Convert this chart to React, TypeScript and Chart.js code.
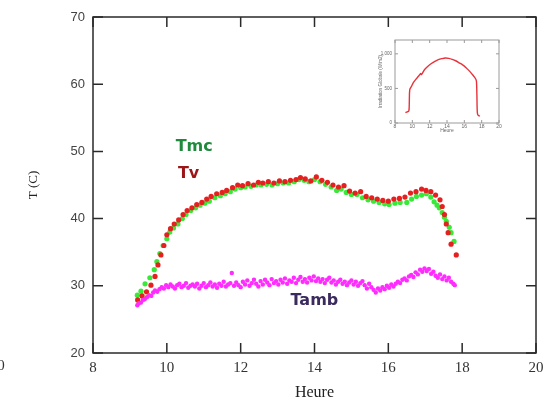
import React, { useEffect, useRef } from "react";
import { Chart, registerables } from "chart.js";
Chart.register(...registerables);

// ---- Main chart data ----
const xTicks = [8, 10, 12, 14, 16, 18, 20];
const yTicks = [20, 30, 40, 50, 60, 70];

const tvHours = [9.21, 9.33, 9.45, 9.57, 9.68, 9.76, 9.84, 9.92, 10.0, 10.1, 10.2, 10.32, 10.44, 10.55, 10.68, 10.81, 10.95, 11.08, 11.2, 11.35, 11.5, 11.62, 11.78, 11.92, 12.05, 12.2, 12.35, 12.48, 12.6, 12.75, 12.9, 13.05, 13.2, 13.35, 13.5, 13.62, 13.75, 13.9, 14.05, 14.2, 14.35, 14.5, 14.65, 14.8, 14.95, 15.1, 15.25, 15.4, 15.55, 15.7, 15.85, 16.0, 16.15, 16.3, 16.45, 16.6, 16.75, 16.9, 17.02, 17.15, 17.28, 17.4, 17.46, 17.52, 17.57, 17.62, 17.7, 17.84];
const tvValues = [27.9, 28.5, 29.1, 30.1, 31.4, 33.1, 34.6, 36.0, 37.6, 38.5, 39.2, 39.8, 40.6, 41.2, 41.6, 42.1, 42.4, 42.9, 43.3, 43.7, 43.9, 44.2, 44.6, 45.0, 44.9, 45.2, 45.0, 45.4, 45.3, 45.5, 45.3, 45.6, 45.5, 45.7, 45.8, 46.1, 45.9, 45.6, 46.2, 45.7, 45.4, 45.0, 44.7, 44.9, 44.1, 43.8, 44.0, 43.3, 43.1, 42.9, 42.7, 42.6, 42.9, 43.0, 43.2, 43.8, 44.0, 44.4, 44.2, 44.0, 43.5, 42.8, 41.8, 40.6, 39.2, 37.9, 36.2, 34.6];

const tmcHours = [9.2, 9.3, 9.41, 9.54, 9.66, 9.73, 9.81, 9.9, 10.0, 10.08, 10.18, 10.3, 10.42, 10.52, 10.65, 10.78, 10.9, 11.03, 11.15, 11.3, 11.45, 11.58, 11.72, 11.85, 12.0, 12.12, 12.28, 12.42, 12.55, 12.7, 12.85, 13.0, 13.15, 13.3, 13.45, 13.58, 13.72, 13.85, 14.0, 14.15, 14.3, 14.45, 14.6, 14.72, 14.86, 15.0, 15.15, 15.3, 15.45, 15.6, 15.75, 15.9, 16.02, 16.18, 16.32, 16.5, 16.63, 16.76, 16.9, 17.03, 17.15, 17.24, 17.32, 17.38, 17.46, 17.52, 17.57, 17.65, 17.7, 17.78];
const tmcValues = [28.6, 29.2, 30.3, 31.2, 32.4, 33.6, 34.8, 36.0, 37.0, 38.0, 38.6, 39.2, 40.0, 40.6, 41.2, 41.6, 42.0, 42.3, 42.6, 43.1, 43.4, 43.7, 44.0, 44.4, 44.6, 44.7, 44.8, 45.0, 45.0, 45.1, 45.0, 45.2, 45.3, 45.3, 45.5, 45.8, 45.7, 45.5, 45.8, 45.5, 45.1, 44.7, 44.2, 44.4, 43.9, 43.6, 43.6, 43.1, 42.8, 42.6, 42.4, 42.2, 42.1, 42.3, 42.4, 42.4, 42.9, 43.3, 43.5, 43.7, 43.2, 42.5, 42.0, 41.6, 40.9, 40.2, 39.6, 38.7, 37.9, 36.6];

const tambHours = [9.2, 9.24, 9.3, 9.35, 9.4, 9.46, 9.52, 9.58, 9.63, 9.68, 9.74, 9.8, 9.86, 9.92, 9.98, 10.04, 10.1, 10.16, 10.22, 10.28, 10.34, 10.4, 10.46, 10.52, 10.58, 10.64, 10.7, 10.76, 10.82, 10.88, 10.94, 11.0, 11.06, 11.12, 11.18, 11.24, 11.3, 11.36, 11.42, 11.48, 11.54, 11.6, 11.66, 11.72, 11.76, 11.82, 11.88, 11.94, 12.0, 12.06, 12.12, 12.18, 12.24, 12.3, 12.36, 12.42, 12.48, 12.54, 12.6, 12.66, 12.72, 12.78, 12.84, 12.9, 12.96, 13.02, 13.08, 13.14, 13.2, 13.26, 13.32, 13.38, 13.44, 13.5, 13.56, 13.62, 13.68, 13.74, 13.8, 13.86, 13.92, 13.98, 14.04, 14.1, 14.16, 14.22, 14.28, 14.34, 14.4, 14.46, 14.52, 14.58, 14.64, 14.7, 14.76, 14.82, 14.88, 14.94, 15.0, 15.06, 15.12, 15.18, 15.24, 15.3, 15.36, 15.42, 15.48, 15.54, 15.6, 15.66, 15.72, 15.78, 15.84, 15.9, 15.96, 16.02, 16.08, 16.14, 16.2, 16.26, 16.32, 16.38, 16.44, 16.5, 16.56, 16.62, 16.68, 16.74, 16.8, 16.86, 16.92, 16.98, 17.04, 17.1, 17.16, 17.22, 17.28, 17.34, 17.4, 17.46, 17.52, 17.58, 17.64, 17.7, 17.76, 17.8];
const tambValues = [27.1, 27.4, 27.5, 27.9, 28.0, 28.3, 28.6, 28.5, 29.0, 29.3, 29.1, 29.5, 29.8, 29.6, 30.1, 29.8, 30.2, 29.9, 29.6, 30.1, 30.3, 29.8, 30.0, 30.4, 29.7, 30.0, 30.2, 29.9, 30.3, 29.6, 30.0, 30.4, 29.8, 30.1, 30.5, 29.9, 30.2, 29.7, 30.3, 30.0, 30.6, 29.9, 30.2, 30.4, 31.9, 30.0, 30.5, 30.1, 29.8, 30.6, 30.2, 30.8, 30.0, 30.4, 30.9, 30.3, 29.9, 30.7, 30.2, 30.9, 30.5, 30.1, 31.0, 30.4, 30.7, 30.2, 30.9, 30.5, 31.1, 30.3, 30.8, 30.6, 31.2, 30.4, 30.9, 31.3, 30.6, 31.0, 30.5, 31.2, 30.8, 31.4, 30.7, 31.1, 30.6, 31.0, 30.4, 30.9, 31.2, 30.5, 30.8, 30.2, 30.6, 30.9, 30.3, 30.6, 30.1, 30.5, 30.8, 30.2, 30.6, 30.0, 30.4, 30.7, 30.1, 29.6, 30.3, 29.8, 29.4, 29.0, 29.6, 29.3, 29.8, 29.5, 30.0, 29.7, 30.2, 29.9, 30.3, 30.6, 30.4, 30.9, 31.1, 30.8, 31.4, 31.6, 31.3, 32.0, 31.7, 32.4, 32.1, 32.6, 32.2, 32.5, 31.8, 32.1, 31.5, 31.2, 31.7, 31.0, 31.4, 30.8, 31.2, 30.6, 30.3, 30.1];

// ---- Inset data ----
const insetXTicks = [8, 10, 12, 14, 16, 18, 20];
const insetYTicks = [0, 500, 1000];
const irrHours = [9.2, 9.4, 9.6, 9.65, 9.7, 9.9, 10.1, 10.4, 10.7, 10.95, 11.05, 11.4, 11.8, 12.2, 12.6, 13.0, 13.4, 13.8, 14.2, 14.6, 15.0, 15.4, 15.8, 16.2, 16.6, 17.0, 17.3, 17.4, 17.45, 17.5, 17.6, 17.8];
const irrValues = [150, 160, 175, 300, 480, 530, 580, 630, 675, 715, 700, 770, 820, 860, 890, 915, 930, 940, 935, 920, 900, 870, 840, 800, 750, 690, 640, 600, 400, 150, 110, 100];

const pts = (xs: number[], ys: number[]) => xs.map((x, i) => ({ x, y: ys[i] }));

const framePlugin = {
  id: "frame",
  afterDraw(chart: any, _a: any, o: any) {
    const { ctx, chartArea: a, scales } = chart;
    ctx.save();
    ctx.strokeStyle = o.color;
    ctx.lineWidth = o.width;
    ctx.strokeRect(a.left, a.top, a.right - a.left, a.bottom - a.top);
    ctx.beginPath();
    for (const v of o.xTicks) {
      const px = scales.x.getPixelForValue(v);
      ctx.moveTo(px, a.bottom); ctx.lineTo(px, a.bottom - o.len);
      ctx.moveTo(px, a.top); ctx.lineTo(px, a.top + o.len);
    }
    for (const v of o.yTicks) {
      const py = scales.y.getPixelForValue(v);
      ctx.moveTo(a.left, py); ctx.lineTo(a.left + o.len, py);
      ctx.moveTo(a.right, py); ctx.lineTo(a.right - o.len, py);
    }
    ctx.stroke();
    ctx.restore();
  },
};

const labelsPlugin = {
  id: "seriesLabels",
  afterDraw(chart: any) {
    const { ctx, scales } = chart;
    ctx.save();
    ctx.font = "bold 16px 'DejaVu Sans'";
    ctx.textAlign = "left";
    ctx.textBaseline = "alphabetic";
    const put = (t: string, c: string, x: number, y: number) => {
      ctx.fillStyle = c;
      ctx.fillText(t, scales.x.getPixelForValue(x), scales.y.getPixelForValue(y));
    };
    put("Tmc", "#1f8a3c", 10.24, 50.1);
    put("Tv", "#9c1518", 10.3, 46.1);
    put("Tamb", "#3b2a5e", 13.35, 27.2);
    ctx.font = "15px 'Liberation Serif'";
    ctx.fillStyle = "#333";
    ctx.textAlign = "center";
    ctx.textBaseline = "middle";
    ctx.fillText("0", 1, 366);
    ctx.restore();
  },
};

function MainChart() {
  const ref = useRef<HTMLCanvasElement>(null);
  useEffect(() => {
    const chart = new Chart(ref.current!, {
      type: "scatter",
      data: {
        datasets: [
          { label: "Tamb", data: pts(tambHours, tambValues), pointRadius: 2.2, pointBorderWidth: 0, backgroundColor: "#ff2bff", borderColor: "#ff2bff" },
          { label: "Tv", data: pts(tvHours, tvValues), pointRadius: 2.6, pointBorderWidth: 0, backgroundColor: "#e62020", borderColor: "#e62020" },
          { label: "Tmc", data: pts(tmcHours, tmcValues), pointRadius: 2.6, pointBorderWidth: 0, backgroundColor: "#38ea38", borderColor: "#38ea38" },
        ],
      },
      options: {
        responsive: false,
        animation: false,
        devicePixelRatio: 1,
        layout: { padding: { left: 0, right: 21, top: 17, bottom: 0 } },
        plugins: { legend: { display: false }, tooltip: { enabled: false }, frame: { color: "#2a2a2a", width: 1.5, len: 10, xTicks, yTicks } } as any,
        scales: {
          x: {
            type: "linear", min: 8, max: 20,
            afterBuildTicks: (s: any) => { s.ticks = xTicks.map((v) => ({ value: v })); },
            ticks: { font: { family: "'Liberation Serif'", size: 15 }, color: "#333", padding: 6, maxRotation: 0 },
            grid: { display: false, drawTicks: false },
            border: { display: false },
            title: { display: true, text: "Heure", font: { family: "'Liberation Serif'", size: 16 }, color: "#222", padding: { top: 0, bottom: 0 } },
            afterFit: (s: any) => { s.height = 49; },
          },
          y: {
            type: "linear", min: 20, max: 70,
            afterBuildTicks: (s: any) => { s.ticks = yTicks.map((v) => ({ value: v })); },
            ticks: { font: { family: "'Liberation Sans'", size: 13 }, color: "#444", padding: 8 },
            grid: { display: false, drawTicks: false },
            border: { display: false },
            title: { display: true, text: "T (C)", font: { family: "'Liberation Serif'", size: 13 }, color: "#222", padding: { top: 26, bottom: 0 } },
            afterFit: (s: any) => { s.width = 93; },
          },
        },
      } as any,
      plugins: [framePlugin, labelsPlugin],
    });
    return () => chart.destroy();
  }, []);
  return <canvas ref={ref} width={557} height={402} style={{ display: "block", width: 557, height: 402 }} />;
}

function InsetChart() {
  const ref = useRef<HTMLCanvasElement>(null);
  useEffect(() => {
    const chart = new Chart(ref.current!, {
      type: "line",
      data: {
        datasets: [
          { label: "Irradiation", data: pts(irrHours, irrValues), borderColor: "#e8323a", borderWidth: 1.4, pointRadius: 0, tension: 0.3, fill: false },
        ],
      },
      options: {
        responsive: false,
        animation: false,
        devicePixelRatio: 1,
        layout: { padding: { left: 0, right: 11, top: 10, bottom: 0 } },
        plugins: { legend: { display: false }, tooltip: { enabled: false }, frame: { color: "#9a9a9a", width: 1, len: 3, xTicks: insetXTicks, yTicks: insetYTicks } } as any,
        scales: {
          x: {
            type: "linear", min: 8, max: 20,
            afterBuildTicks: (s: any) => { s.ticks = insetXTicks.map((v) => ({ value: v })); },
            ticks: { font: { family: "'Liberation Sans'", size: 5 }, color: "#666", padding: 1, maxRotation: 0 },
            grid: { display: false, drawTicks: false },
            border: { display: false },
            title: { display: true, text: "Heure", font: { family: "'Liberation Sans'", size: 5 }, color: "#666", padding: { top: 0, bottom: 4 } },
            afterFit: (s: any) => { s.height = 15; },
          },
          y: {
            type: "linear", min: 0, max: 1200,
            afterBuildTicks: (s: any) => { s.ticks = insetYTicks.map((v) => ({ value: v })); },
            ticks: { font: { family: "'Liberation Sans'", size: 4.5 }, color: "#666", padding: 3 },
            grid: { display: false, drawTicks: false },
            border: { display: false },
            title: { display: true, text: "Irradiation Globale (W/m2)", font: { family: "'Liberation Sans'", size: 4.5 }, color: "#666", padding: { top: 18, bottom: 0 } },
            afterFit: (s: any) => { s.width = 35; },
          },
        },
      } as any,
      plugins: [framePlugin],
    });
    return () => chart.destroy();
  }, []);
  return <canvas ref={ref} width={150} height={108} style={{ display: "block", width: 150, height: 108 }} />;
}

export default function App() {
  return (
    <div style={{ position: "fixed", left: 0, top: 0, width: 557, height: 402, background: "#fff", overflow: "hidden" }}>
      <MainChart />
      <div style={{ position: "absolute", left: 360, top: 30, width: 150, height: 108 }}>
        <InsetChart />
      </div>
    </div>
  );
}
